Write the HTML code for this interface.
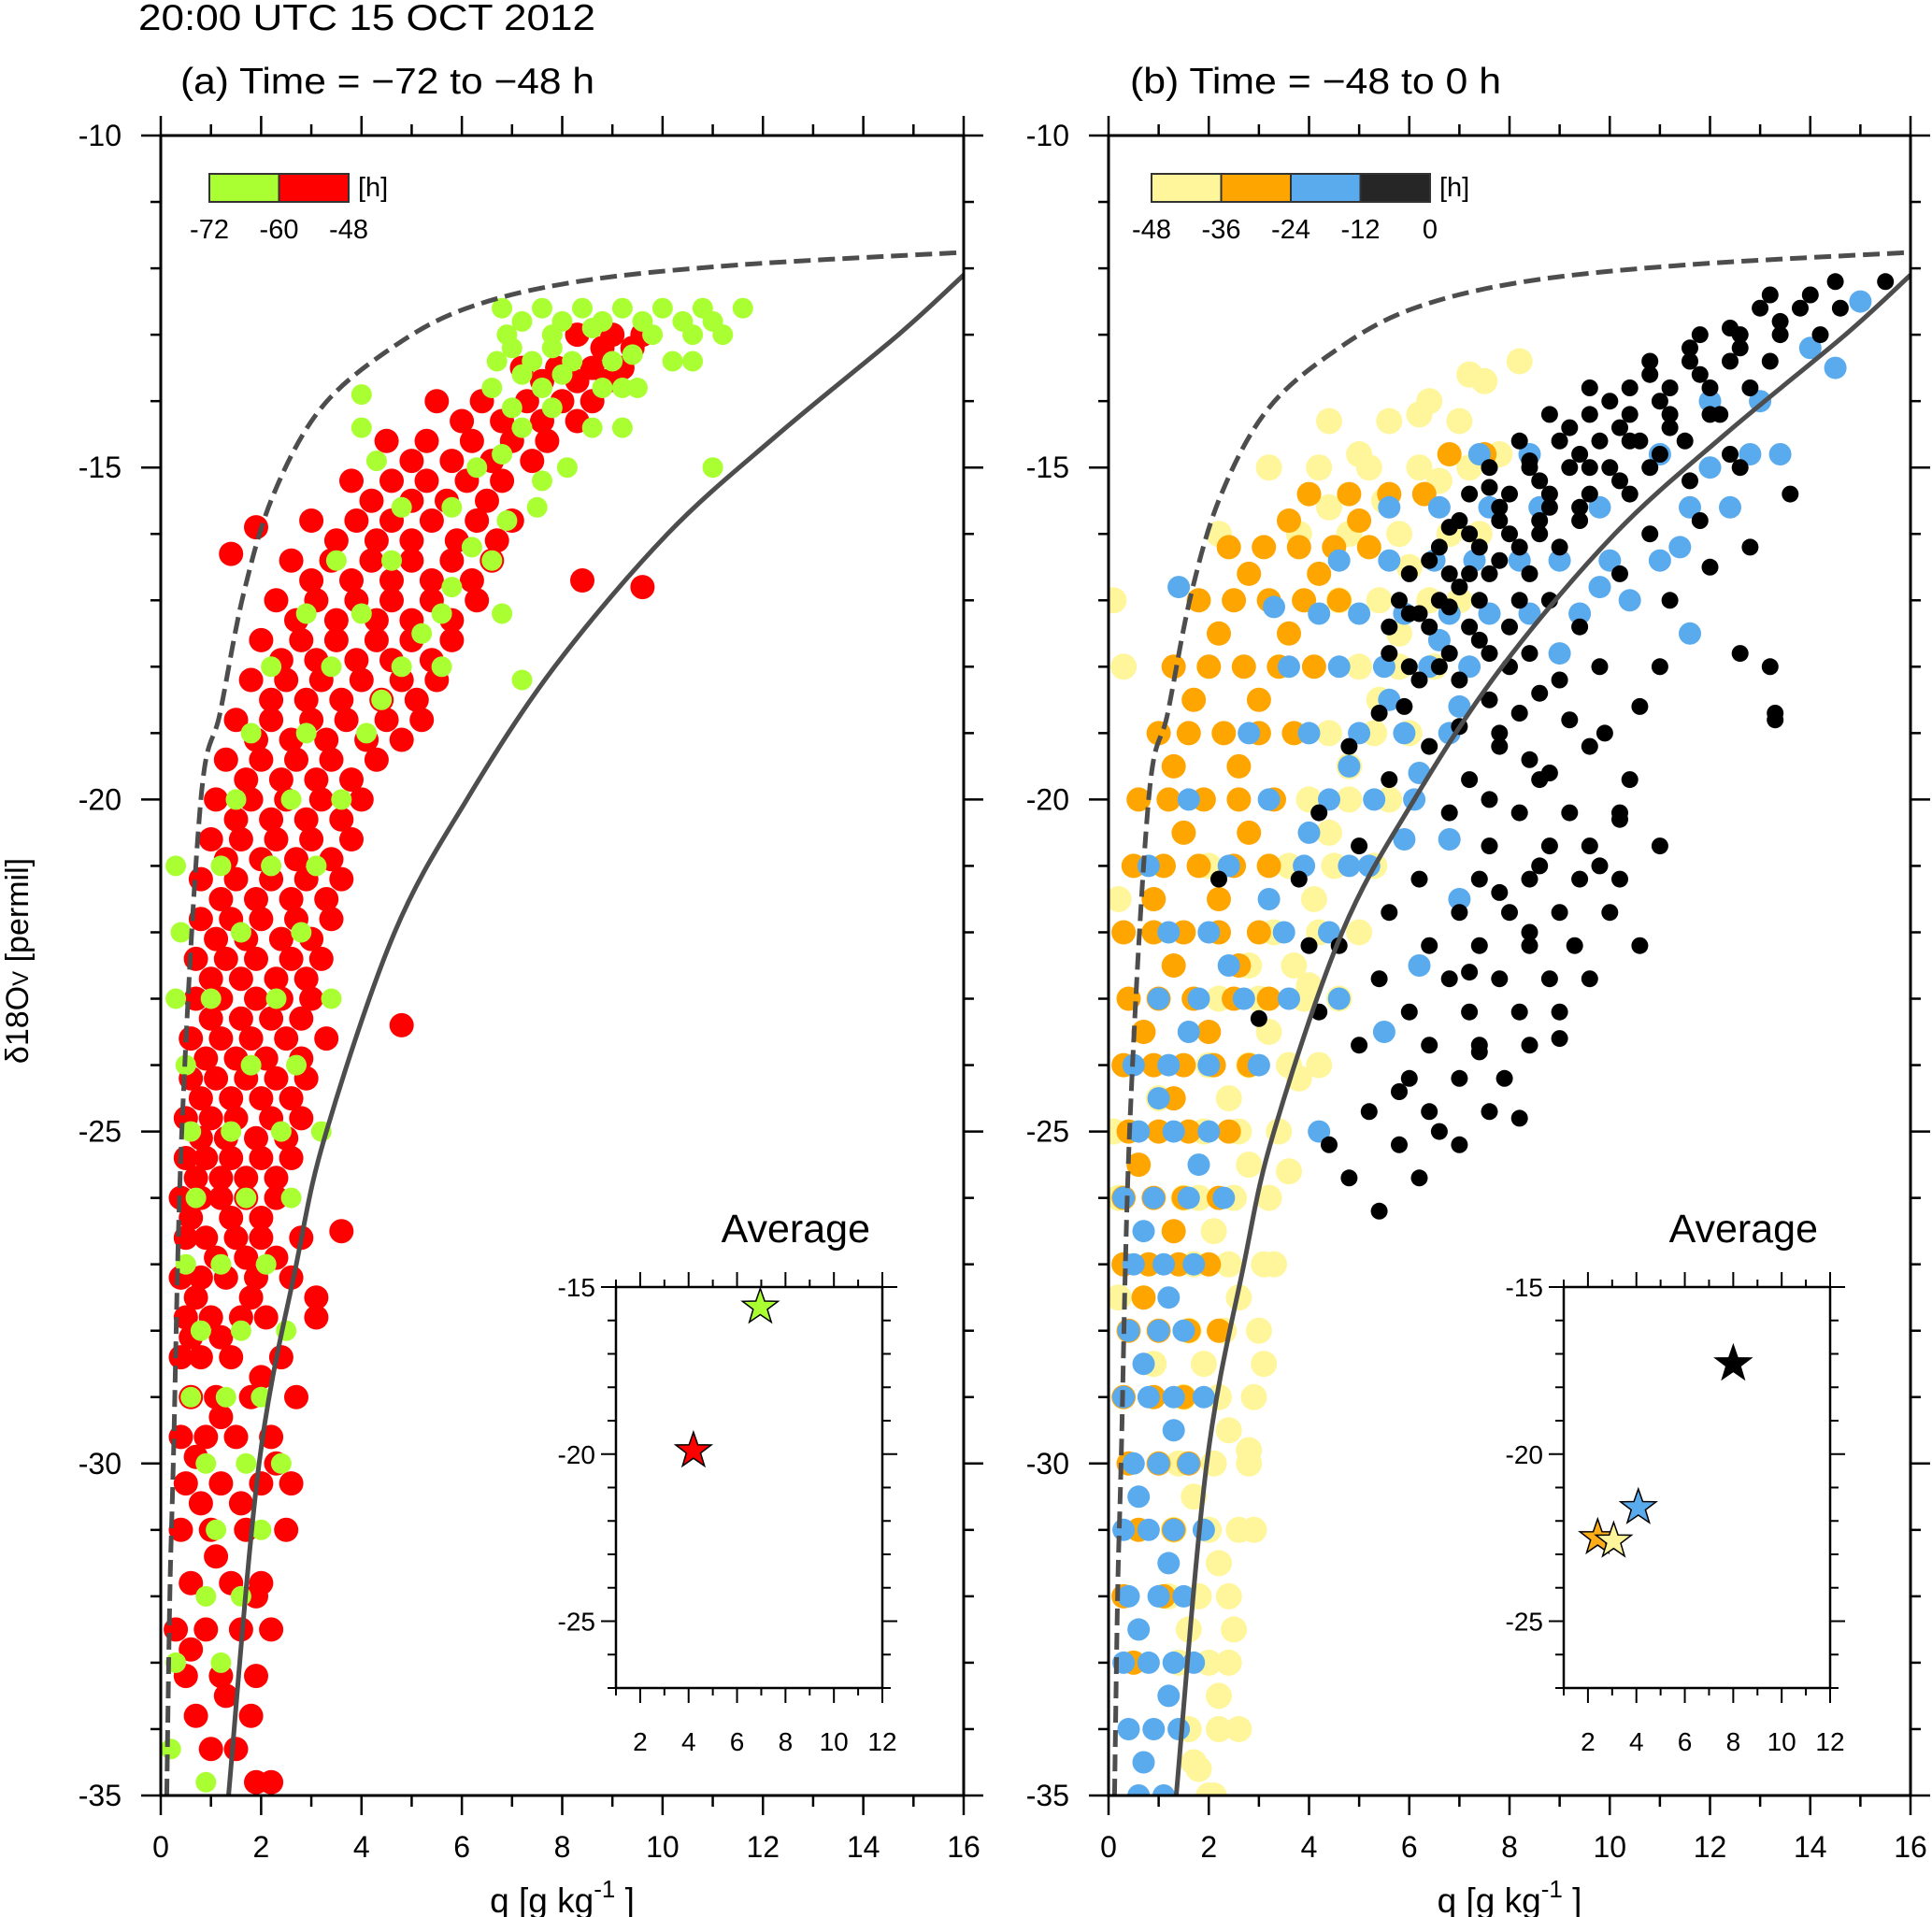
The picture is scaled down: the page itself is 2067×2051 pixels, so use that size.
<!DOCTYPE html>
<html><head><meta charset="utf-8"><title>d18O vs q</title>
<style>html,body{margin:0;padding:0;background:#fff}svg{display:block}
text{font-family:"Liberation Sans Narrow","Liberation Sans",sans-serif;fill:#000}</style></head>
<body>
<svg id="fig" width="2067" height="2051" viewBox="0 0 2067 2051" xmlns="http://www.w3.org/2000/svg">
<text x="148" y="32" font-size="39" textLength="489" lengthAdjust="spacingAndGlyphs">20:00 UTC   15 OCT 2012</text>
<text x="193" y="100" font-size="39" textLength="443" lengthAdjust="spacingAndGlyphs">(a) Time = −72 to −48 h</text>
<text x="1209" y="100" font-size="39" textLength="397" lengthAdjust="spacingAndGlyphs">(b) Time = −48 to 0 h</text>
<text transform="translate(30,1028) rotate(-90)" text-anchor="middle" font-size="34">δ18O<tspan font-size="24">V</tspan> [permil]</text>
<defs id="defs"></defs>
<g id="plots"></g>
</svg>
<script>
// ---- data ----
const xTicks=[0,2,4,6,8,10,12,14,16];
const yTicks=[-10,-15,-20,-25,-30,-35];
const insetXTicks=[2,4,6,8,10,12];
const insetYTicks=[-15,-20,-25];
const dashedCurveQ=[0.12,0.18,0.25,0.42,0.8,1.18,1.65,2.25,3.2,4.6,6.1,8.3,11.5,16];
const dashedCurveD=[-35,-32,-30,-25,-20,-18.7,-16.9,-15.4,-14.1,-13.2,-12.6,-12.2,-11.95,-11.76];
const solidCurveQ=[1.35,1.96,2.7,3.3,4.66,6.1,7.85,10.1,12.3,14.7,16];
const solidCurveD=[-35,-30,-27,-25,-22,-20,-18,-16,-14.5,-13,-12.1];
const redPts=[[1.9,-34.8],[1.5,-34.3],[1.0,-34.3],[0.7,-33.8],[1.8,-33.8],[0.5,-33.2],[1.2,-33.2],[1.9,-33.2],[0.3,-32.5],[0.9,-32.5],[1.6,-32.5],[2.2,-32.5],[0.6,-31.8],[1.4,-31.8],[2.0,-31.8],[0.4,-31],[1.0,-31],[1.7,-31],[2.5,-31],[0.5,-30.3],[1.2,-30.3],[2.0,-30.3],[2.6,-30.3],[0.4,-29.6],[0.9,-29.6],[1.5,-29.6],[2.2,-29.6],[0.6,-29],[1.1,-29],[1.8,-29],[2.7,-29],[0.4,-28.4],[0.8,-28.4],[1.4,-28.4],[2.4,-28.4],[0.5,-27.8],[1.0,-27.8],[1.6,-27.8],[2.1,-27.8],[3.1,-27.8],[0.4,-27.2],[0.8,-27.2],[1.3,-27.2],[1.9,-27.2],[2.6,-27.2],[0.5,-26.6],[0.9,-26.6],[1.5,-26.6],[2.0,-26.6],[2.8,-26.6],[0.4,-26],[0.8,-26],[1.2,-26],[1.7,-26],[2.3,-26],[0.5,-25.4],[0.9,-25.4],[1.4,-25.4],[2.0,-25.4],[2.6,-25.4],[0.5,-24.8],[1.0,-24.8],[1.5,-24.8],[2.2,-24.8],[2.8,-24.8],[0.6,-24.2],[1.1,-24.2],[1.7,-24.2],[2.3,-24.2],[2.9,-24.2],[0.6,-23.6],[1.2,-23.6],[1.8,-23.6],[2.5,-23.6],[3.3,-23.6],[0.7,-23],[1.2,-23],[1.9,-23],[2.4,-23],[3.0,-23],[0.7,-22.4],[1.3,-22.4],[1.9,-22.4],[2.6,-22.4],[3.2,-22.4],[0.8,-21.8],[1.4,-21.8],[2.0,-21.8],[2.7,-21.8],[3.4,-21.8],[0.8,-21.2],[1.5,-21.2],[2.2,-21.2],[2.9,-21.2],[3.6,-21.2],[1.0,-20.6],[1.6,-20.6],[2.3,-20.6],[3.0,-20.6],[3.8,-20.6],[1.1,-20],[1.8,-20],[2.5,-20],[3.2,-20],[4.0,-20],[1.3,-19.4],[2.0,-19.4],[2.7,-19.4],[3.4,-19.4],[4.3,-19.4],[1.5,-18.8],[2.2,-18.8],[3.0,-18.8],[3.7,-18.8],[4.5,-18.8],[5.2,-18.8],[1.8,-18.2],[2.5,-18.2],[3.2,-18.2],[4.0,-18.2],[4.8,-18.2],[5.5,-18.2],[2.0,-17.6],[2.8,-17.6],[3.5,-17.6],[4.3,-17.6],[5.0,-17.6],[5.8,-17.6],[2.3,-17],[3.1,-17],[3.9,-17],[4.6,-17],[5.4,-17],[6.3,-17],[2.6,-16.4],[3.4,-16.4],[4.2,-16.4],[5.0,-16.4],[5.8,-16.4],[6.6,-16.4],[3.0,-15.8],[3.9,-15.8],[4.6,-15.8],[5.4,-15.8],[6.3,-15.8],[7.0,-15.8],[3.8,-15.2],[4.6,-15.2],[5.3,-15.2],[6.1,-15.2],[6.8,-15.2],[4.5,-14.6],[5.3,-14.6],[6.2,-14.6],[7.0,-14.6],[7.7,-14.6],[5.5,-14],[6.4,-14],[7.3,-14],[8.0,-14],[8.6,-14],[7.2,-13.5],[7.9,-13.5],[8.6,-13.5],[9.2,-13.5],[8.3,-13],[9.0,-13],[9.6,-13],[9.6,-16.8],[8.4,-16.7],[3.6,-26.5],[4.8,-23.4],[3.1,-27.5],[2.2,-34.8],[1.9,-15.9],[1.4,-16.3],
[1.3,-33.5],[0.6,-32.8],[1.9,-32.0],[1.1,-31.4],[0.8,-30.6],[1.6,-30.6],[2.3,-30.0],[0.7,-29.9],[1.2,-29.3],[2.0,-28.7],[0.6,-28.1],[1.2,-28.1],[1.8,-27.5],[0.7,-27.5],[1.1,-26.9],[1.7,-26.9],[2.3,-26.9],[0.6,-26.3],[1.4,-26.3],[2.0,-26.3],[0.7,-25.7],[1.2,-25.7],[1.7,-25.7],[2.3,-25.7],[0.8,-25.1],[1.3,-25.1],[1.9,-25.1],[2.5,-25.1],[0.8,-24.5],[1.4,-24.5],[2.0,-24.5],[2.6,-24.5],[0.9,-23.9],[1.5,-23.9],[2.1,-23.9],[2.8,-23.9],[1.0,-23.3],[1.6,-23.3],[2.2,-23.3],[2.8,-23.3],[1.0,-22.7],[1.6,-22.7],[2.3,-22.7],[2.9,-22.7],[1.1,-22.1],[1.7,-22.1],[2.4,-22.1],[3.0,-22.1],[1.2,-21.5],[1.9,-21.5],[2.6,-21.5],[3.3,-21.5],[1.3,-20.9],[2.0,-20.9],[2.7,-20.9],[3.4,-20.9],[1.5,-20.3],[2.2,-20.3],[2.9,-20.3],[3.6,-20.3],[1.7,-19.7],[2.4,-19.7],[3.1,-19.7],[3.8,-19.7],[1.9,-19.1],[2.6,-19.1],[3.3,-19.1],[4.1,-19.1],[4.8,-19.1],[2.2,-18.5],[2.9,-18.5],[3.6,-18.5],[4.4,-18.5],[5.1,-18.5],[2.4,-17.9],[3.1,-17.9],[3.9,-17.9],[4.6,-17.9],[5.4,-17.9],[2.7,-17.3],[3.5,-17.3],[4.3,-17.3],[5.0,-17.3],[5.8,-17.3],[3.0,-16.7],[3.8,-16.7],[4.6,-16.7],[5.4,-16.7],[6.2,-16.7],[3.5,-16.1],[4.3,-16.1],[5.0,-16.1],[5.9,-16.1],[6.7,-16.1],[4.2,-15.5],[5.0,-15.5],[5.7,-15.5],[6.5,-15.5],[5.0,-14.9],[5.8,-14.9],[6.6,-14.9],[7.4,-14.9],[6.0,-14.3],[6.8,-14.3],[7.6,-14.3],[8.3,-14.3],[7.6,-13.7],[8.3,-13.7],[8.9,-13.7],[8.8,-13.2],[9.4,-13.2]];
const greenPts=[[6.8,-12.6],[7.6,-12.6],[8.4,-12.6],[9.2,-12.6],[10.0,-12.6],[10.8,-12.6],[11.6,-12.6],[6.9,-13],[7.8,-13],[8.6,-12.9],[9.8,-13],[10.6,-13],[11.2,-13],[6.7,-13.4],[7.4,-13.4],[10.2,-13.4],[9.4,-13.3],[6.6,-13.8],[7.6,-13.8],[8.8,-13.8],[9.5,-13.8],[4.0,-14.4],[7.2,-14.4],[8.6,-14.4],[9.2,-14.4],[6.3,-15],[8.1,-15],[11.0,-15],[4.8,-15.6],[5.8,-15.6],[7.5,-15.6],[3.5,-16.4],[4.6,-16.4],[6.6,-16.4],[2.9,-17.2],[4.0,-17.2],[5.6,-17.2],[6.8,-17.2],[2.2,-18],[3.4,-18],[4.8,-18],[7.2,-18.2],[1.8,-19],[2.9,-19],[4.1,-19],[1.5,-20],[2.6,-20],[3.6,-20],[0.3,-21],[1.2,-21],[2.2,-21],[3.1,-21],[0.4,-22],[1.6,-22],[2.8,-22],[0.3,-23],[1.0,-23],[2.3,-23],[3.4,-23],[0.5,-24],[1.8,-24],[2.7,-24],[0.6,-25],[1.4,-25],[2.4,-25],[3.2,-25],[0.7,-26],[1.7,-26],[2.6,-26],[0.5,-27],[1.2,-27],[2.1,-27],[0.8,-28],[1.6,-28],[2.5,-28],[0.6,-29],[1.3,-29],[2.0,-29],[0.9,-30],[1.7,-30],[2.4,-30],[1.1,-31],[2.0,-31],[0.9,-32],[1.6,-32],[0.3,-33],[1.2,-33],[0.2,-34.3],[0.9,-34.8],[4.3,-14.9],[4.0,-13.9],
[7.2,-12.8],[8.0,-12.8],[8.8,-12.8],[9.6,-12.8],[10.4,-12.8],[11.0,-12.8],[7.0,-13.2],[7.8,-13.2],[8.2,-13.4],[9.0,-13.4],[10.6,-13.4],[7.2,-13.6],[8.0,-13.6],[9.2,-13.8],[7.0,-14.1],[7.8,-14.1],[6.8,-14.8],[7.6,-15.2],[6.9,-15.8],[6.2,-16.2],[5.8,-16.8],[5.2,-17.5],[4.4,-18.5],[5.6,-18.0]];
const yellowPts=[[2.1,-35],[1.8,-34.6],[1.6,-34],[2.2,-34],[1.4,-33],[2.0,-33],[2.4,-33],[1.2,-32],[1.8,-32],[2.4,-32],[1.3,-31],[2.0,-31],[2.6,-31],[1.4,-30],[2.1,-30],[2.8,-30],[1.5,-29],[2.2,-29],[2.9,-29],[1.6,-28],[2.3,-28],[3.0,-28],[1.7,-27],[2.4,-27],[3.1,-27],[1.8,-26],[2.5,-26],[3.2,-26],[0.2,-26],[1.9,-25],[2.6,-25],[3.4,-25],[0.1,-25],[2.0,-24],[2.8,-24],[3.6,-24],[4.2,-24],[2.2,-23],[3.0,-23],[3.9,-23],[4.6,-23],[3.3,-22],[4.2,-22],[5.0,-22],[3.6,-21],[4.5,-21],[5.3,-21],[4.0,-20],[4.8,-20],[5.6,-20],[4.4,-19],[5.3,-19],[6.0,-19],[0.3,-18],[5.0,-18],[5.8,-18],[6.5,-18],[0.1,-17],[4.6,-17],[5.4,-17],[6.4,-17],[7.0,-17],[2.2,-16],[3.8,-16],[4.8,-16],[5.8,-16],[6.8,-16],[7.4,-16],[3.2,-15],[4.2,-15],[5.2,-15],[6.2,-15],[7.2,-15],[4.4,-14.3],[5.6,-14.3],[7.0,-14.3],[7.5,-13.7],[8.2,-13.4],[0.2,-27.5],[0.2,-21.5],[0.9,-28.5],[1.0,-24.5],
[1.7,-34.5],[2.2,-33.5],[1.6,-32.5],[2.2,-31.5],[1.7,-30.5],[2.4,-29.5],[1.9,-28.5],[2.6,-27.5],[2.1,-26.5],[2.8,-25.5],[2.4,-24.5],[3.2,-23.5],[3.7,-22.5],[4.1,-21.5],[4.4,-20.5],[4.8,-19.5],[5.4,-18.5],[5.8,-17.5],[6.0,-16.5],[5.5,-15.5],[6.6,-15.2],[7.8,-14.8],[6.4,-14.0],
[2.6,-34.0],[2.0,-35.0],[2.5,-32.5],[2.9,-31.0],[2.8,-29.8],[3.1,-28.5],[3.3,-27.0],[3.6,-25.6],[3.8,-24.2],[2.8,-22.5],[4.0,-22.8],[1.5,-26.0],[2.0,-21.0],[6.2,-14.2],[7.2,-13.6],[5.0,-14.8],[4.4,-15.6]];
const orangePts=[[0.5,-33],[0.3,-32],[1.1,-32],[0.6,-31],[1.3,-31],[0.4,-30],[1.0,-30],[1.6,-30],[0.3,-29],[0.9,-29],[1.5,-29],[0.4,-28],[1.0,-28],[1.6,-28],[2.2,-28],[0.3,-27],[0.8,-27],[1.4,-27],[2.0,-27],[0.3,-26],[0.9,-26],[1.5,-26],[2.2,-26],[0.4,-25],[1.0,-25],[1.6,-25],[2.4,-25],[0.3,-24],[0.9,-24],[1.5,-24],[2.1,-24],[2.8,-24],[0.4,-23],[1.0,-23],[1.7,-23],[2.5,-23],[3.2,-23],[0.3,-22],[0.9,-22],[1.5,-22],[2.2,-22],[3.0,-22],[0.5,-21],[1.1,-21],[1.8,-21],[2.5,-21],[3.2,-21],[0.6,-20],[1.2,-20],[1.9,-20],[2.6,-20],[3.3,-20],[1.0,-19],[1.6,-19],[2.3,-19],[3.0,-19],[3.7,-19],[1.3,-18],[2.0,-18],[2.7,-18],[3.4,-18],[4.1,-18],[1.8,-17],[2.5,-17],[3.2,-17],[3.9,-17],[4.6,-17],[2.4,-16.2],[3.1,-16.2],[3.8,-16.2],[4.5,-16.2],[5.2,-16.2],[4.0,-15.4],[4.8,-15.4],[5.6,-15.4],[6.3,-15.4],[6.8,-14.8],[7.5,-14.8],
[0.7,-27.5],[1.3,-26.5],[0.6,-25.5],[1.3,-24.5],[2.0,-23.5],[0.7,-23.5],[1.3,-22.5],[2.6,-22.5],[0.9,-21.5],[2.2,-21.5],[1.5,-20.5],[2.8,-20.5],[1.3,-19.5],[2.6,-19.5],[1.7,-18.5],[3.0,-18.5],[2.2,-17.5],[3.6,-17.5],[2.8,-16.6],[4.2,-16.6],[3.6,-15.8],[5.0,-15.8]];
const bluePts=[[0.6,-35],[1.1,-35],[0.4,-34],[0.9,-34],[1.4,-34],[0.3,-33],[0.8,-33],[1.3,-33],[1.7,-33],[0.4,-32],[1.0,-32],[1.5,-32],[0.3,-31],[0.8,-31],[1.3,-31],[1.9,-31],[0.5,-30],[1.0,-30],[1.6,-30],[0.3,-29],[0.8,-29],[1.3,-29],[1.9,-29],[0.4,-28],[1.0,-28],[1.5,-28],[0.5,-27],[1.1,-27],[1.7,-27],[0.3,-26],[0.9,-26],[1.6,-26],[2.3,-26],[0.6,-25],[1.3,-25],[2.0,-25],[4.2,-25],[0.5,-24],[1.2,-24],[2.0,-24],[3.0,-24],[1.0,-23],[1.8,-23],[2.7,-23],[3.6,-23],[1.2,-22],[2.0,-22],[3.5,-22],[4.4,-22],[0.8,-21],[2.4,-21],[3.9,-21],[4.8,-21],[1.6,-20],[3.2,-20],[4.4,-20],[5.3,-20],[6.1,-20],[2.8,-19],[4.0,-19],[5.0,-19],[5.9,-19],[6.8,-19],[3.6,-18],[4.6,-18],[5.5,-18],[6.4,-18],[7.2,-18],[4.2,-17.2],[5.0,-17.2],[5.9,-17.2],[6.8,-17.2],[7.6,-17.2],[8.4,-17.2],[9.4,-17.2],[4.6,-16.4],[5.6,-16.4],[6.5,-16.4],[7.3,-16.4],[8.2,-16.4],[9.0,-16.4],[10.0,-16.4],[11.0,-16.4],[5.6,-15.6],[6.6,-15.6],[7.6,-15.6],[8.6,-15.6],[9.8,-15.6],[11.6,-15.6],[12.4,-15.6],[7.4,-14.8],[8.4,-14.8],[11.0,-14.8],[12.8,-14.8],[13.4,-14.8],[12.0,-14],[13.0,-14],[14.0,-13.2],[15.0,-12.5],[9.8,-16.8],[11.6,-17.5],[9.0,-17.8],[5.9,-20.6],[3.3,-17.1],[1.4,-16.8],[14.5,-13.5],[7.0,-21.5],[6.2,-22.5],[5.5,-23.5],
[0.7,-34.5],[1.2,-33.5],[0.6,-32.5],[1.2,-31.5],[0.6,-30.5],[1.3,-29.5],[0.7,-28.5],[1.2,-27.5],[0.7,-26.5],[1.8,-25.5],[1.0,-24.5],[1.6,-23.5],[2.4,-22.5],[3.2,-21.5],[4.0,-20.5],[4.8,-19.5],[5.6,-18.5],[6.6,-17.6],[7.0,-18.6],[6.2,-19.6],[5.2,-21.0],[6.8,-20.6],[4.6,-23.0],[10.4,-17.0],[11.4,-16.2],[12.0,-15.0]];
const blackPts=[[14.5,-12.2],[15.5,-12.2],[13.0,-12.6],[13.8,-12.6],[14.6,-12.6],[11.8,-13],[12.6,-13],[13.4,-13],[14.2,-13],[10.8,-13.4],[11.6,-13.4],[12.4,-13.4],[13.2,-13.4],[9.6,-13.8],[10.4,-13.8],[11.2,-13.8],[12.0,-13.8],[12.8,-13.8],[8.8,-14.2],[9.6,-14.2],[10.4,-14.2],[11.2,-14.2],[12.2,-14.2],[8.2,-14.6],[9.0,-14.6],[9.8,-14.6],[10.6,-14.6],[11.5,-14.6],[7.6,-15],[8.4,-15],[9.2,-15],[10.0,-15],[10.8,-15],[12.6,-15],[7.2,-15.4],[8.0,-15.4],[8.8,-15.4],[9.6,-15.4],[10.4,-15.4],[13.6,-15.4],[7.0,-15.8],[7.8,-15.8],[8.6,-15.8],[9.4,-15.8],[11.8,-15.8],[6.6,-16.2],[7.4,-16.2],[8.2,-16.2],[9.0,-16.2],[12.8,-16.2],[6.0,-16.6],[6.8,-16.6],[7.6,-16.6],[8.4,-16.6],[10.2,-16.6],[5.8,-17],[6.6,-17],[7.4,-17],[8.2,-17],[11.2,-17],[5.6,-17.4],[6.4,-17.4],[7.2,-17.4],[8.0,-17.4],[9.4,-17.4],[5.6,-17.8],[6.8,-17.8],[7.6,-17.8],[8.4,-17.8],[12.6,-17.8],[6.2,-18.2],[7.0,-18.2],[7.6,-18.5],[9.0,-18.2],[5.4,-18.7],[7.0,-18.9],[8.2,-18.7],[13.3,-18.7],[4.8,-19.2],[6.4,-19.2],[7.8,-19.2],[9.6,-19.2],[5.6,-19.7],[7.2,-19.7],[8.6,-19.7],[10.4,-19.7],[4.2,-20.2],[6.8,-20.2],[8.2,-20.2],[9.2,-20.2],[10.2,-20.2],[5.0,-20.7],[7.6,-20.7],[8.8,-20.7],[9.6,-20.7],[11.0,-20.7],[3.8,-21.2],[6.2,-21.2],[7.4,-21.2],[8.4,-21.2],[9.4,-21.2],[10.2,-21.2],[5.6,-21.7],[7.0,-21.7],[8.0,-21.7],[9.0,-21.7],[10.0,-21.7],[4.6,-22.2],[6.4,-22.2],[7.4,-22.2],[8.4,-22.2],[9.3,-22.2],[5.4,-22.7],[6.8,-22.7],[7.8,-22.7],[8.8,-22.7],[9.6,-22.7],[4.2,-23.2],[6.0,-23.2],[7.2,-23.2],[8.2,-23.2],[9.0,-23.2],[5.0,-23.7],[6.4,-23.7],[7.4,-23.7],[8.4,-23.7],[6.0,-24.2],[7.0,-24.2],[7.9,-24.2],[5.2,-24.7],[6.4,-24.7],[7.6,-24.7],[4.4,-25.2],[5.8,-25.2],[7.0,-25.2],[4.8,-25.7],[6.2,-25.7],[5.4,-26.2],[13.2,-18.0],[13.3,-18.8],[10.2,-20.3],[3.0,-23.3],[2.2,-21.2],[12.0,-16.5],[11.0,-18.0],
[6.4,-16.4],[7.2,-16.0],[7.8,-15.6],[8.6,-15.2],[9.4,-14.8],[10.2,-14.4],[11.0,-14.0],[11.8,-13.6],[12.6,-13.2],[13.4,-12.8],[14.0,-12.4],[6.2,-17.2],[7.0,-16.8],[7.8,-16.4],[8.6,-16.0],[9.4,-15.6],[10.2,-15.2],[11.0,-14.8],[6.6,-18.0],[7.4,-17.6],[8.0,-18.0],[8.8,-17.0],[7.8,-19.0],[8.4,-19.4],[7.6,-20.0],[8.6,-21.0],[7.8,-21.4],[8.4,-22.0],[7.2,-22.6],
[6.8,-15.9],[7.6,-15.3],[8.4,-14.9],[9.2,-14.4],[10.0,-14.0],[10.8,-13.6],[11.6,-13.2],[12.4,-12.9],[13.2,-12.4],[6.0,-17.2],[6.8,-17.1],[7.2,-16.6],[8.0,-16.0],[8.8,-15.6],[9.6,-15.0],[10.4,-14.6],[11.2,-14.4],[12.0,-14.2],[8.6,-18.4],[9.2,-18.8],[6.0,-18.0],[5.9,-18.6],[9.8,-18.0],[10.6,-18.6],[9.8,-21.0],[8.2,-24.8],[6.6,-25.0],[7.4,-23.8],[5.8,-24.4],[9.0,-23.6],[10.6,-22.2],[4.0,-22.2],[8.8,-19.6],[9.9,-19.0],[10.8,-16.0],[11.6,-15.2],[12.4,-14.8]];
const avgA_Q=[6.96,4.2];
const avgA_D=[-15.6,-19.9];
const avgA_Col=["#aaff33","#ff0000"];
const avgB_Q=[2.4,3.06,4.08,8.0];
const avgB_D=[-22.5,-22.6,-21.6,-17.3];
const avgB_Col=["#ffae1a","#fff59a","#5aaaee","#000000"];
const cbA_Labels=["-72","-60","-48"];
const cbA_Col=["#aaff33","#ff0000"];
const cbB_Labels=["-48","-36","-24","-12","0"];
const cbB_Col=["#fff59a","#ffa500","#5aaaee","#262626"];

const NS="http://www.w3.org/2000/svg";
const root=document.getElementById('plots');
const defs=document.getElementById('defs');
function mk(tag,attrs,parent){const e=document.createElementNS(NS,tag);for(const k in attrs)e.setAttribute(k,attrs[k]);(parent||root).appendChild(e);return e;}
const PY0=145,PY1=1921;
function yS(d){return PY0+(-10-d)/25*(PY1-PY0);}
function xS(L,W){return q=>L+q/16*W;}
function smooth(P){let s='M'+P[0][0].toFixed(1)+','+P[0][1].toFixed(1);
  for(let i=0;i<P.length-1;i++){const p0=P[Math.max(i-1,0)],p1=P[i],p2=P[i+1],p3=P[Math.min(i+2,P.length-1)];
    const c1=[p1[0]+(p2[0]-p0[0])/6,p1[1]+(p2[1]-p0[1])/6],c2=[p2[0]-(p3[0]-p1[0])/6,p2[1]-(p3[1]-p1[1])/6];
    s+='C'+c1[0].toFixed(1)+','+c1[1].toFixed(1)+' '+c2[0].toFixed(1)+','+c2[1].toFixed(1)+' '+p2[0].toFixed(1)+','+p2[1].toFixed(1);}
  return s;}

function panel(L,W,id,series,cb,avg){
  const g=mk('g',{});
  
  
  const X=xS(L,W);
  const cp=mk('clipPath',{id:'clip-'+id},defs);
  mk('rect',{x:L,y:PY0,width:W,height:PY1-PY0},cp);
  const dg=mk('g',{'clip-path':'url(#clip-'+id+')'},g);
  series.forEach(s=>{
    const sg=mk('g',{fill:s.col},dg);
    
    
    s.pts.forEach(p=>{
      const c=mk('circle',{cx:X(p[0]).toFixed(1),cy:yS(p[1]).toFixed(1),r:s.r},sg);
      
      
    });
  });
  const dc=mk('path',{d:smooth(dashedCurveQ.map((q,i)=>[X(q),yS(dashedCurveD[i])])),fill:'none',stroke:'#4d4d4d','stroke-width':5,'stroke-dasharray':'18,8'},dg);
  
  
  const sc=mk('path',{d:smooth(solidCurveQ.map((q,i)=>[X(q),yS(solidCurveD[i])])),fill:'none',stroke:'#4d4d4d','stroke-width':5},dg);
  
  
  const fr=mk('rect',{x:L,y:PY0,width:W,height:PY1-PY0,fill:'none',stroke:'#000','stroke-width':3},g);
  
  
  for(let q=0;q<=16;q++){const x=X(q),len=q%2?12:21;
    mk('line',{x1:x,y1:PY0,x2:x,y2:PY0-len,stroke:'#000','stroke-width':2.5},g);
    mk('line',{x1:x,y1:PY1,x2:x,y2:PY1+len,stroke:'#000','stroke-width':2.5},g);}
  xTicks.forEach(q=>{const t=mk('text',{x:X(q),y:1987,'font-size':32,'text-anchor':'middle'},g);t.textContent=q;
    });
  for(let d=-10;d>=-35;d--){const y=yS(d),len=d%5?11:21;
    mk('line',{x1:L,y1:y,x2:L-len,y2:y,stroke:'#000','stroke-width':2.5},g);
    mk('line',{x1:L+W,y1:y,x2:L+W+len,y2:y,stroke:'#000','stroke-width':2.5},g);}
  yTicks.forEach(d=>{const t=mk('text',{x:L-42,y:yS(d)+11,'font-size':32,'text-anchor':'end'},g);t.textContent=d;
    });
  const xt=mk('text',{x:L+W/2,y:2046,'font-size':37,'text-anchor':'middle'},g);
  xt.innerHTML='q [g kg<tspan font-size="26" dy="-16">-1</tspan><tspan dy="16"> ]</tspan>';
  
  const cg=mk('g',{},g);
  
  
  const segW=74.5;
  cb.cols.forEach((c,i)=>{mk('rect',{x:cb.x+i*segW,y:186,width:segW,height:30,fill:c,stroke:'#333','stroke-width':2},cg);});
  cb.labels.forEach((l,i)=>{const t=mk('text',{x:cb.x+i*segW,y:255,'font-size':29,'text-anchor':'middle'},cg);t.textContent=l;});
  const ht=mk('text',{x:cb.x+cb.cols.length*segW+10,y:210,'font-size':29},cg);ht.textContent='[h]';
  const IL=L+487,IW=285,IT=1377,IB=1806;
  const ix=q=>IL+(q-1)/11*IW, iy=d=>IT+(-15-d)/12*(IB-IT);
  const ig=mk('g',{},g);
  
  
  const at=mk('text',{x:IL+272,y:1329,'font-size':43,'text-anchor':'end'},ig);at.textContent='Average';
  mk('rect',{x:IL,y:IT,width:IW,height:IB-IT,fill:'none',stroke:'#000','stroke-width':2.5},ig);
  for(let q=1;q<=12;q++){const x=ix(q),len=q%2?8:16;
    mk('line',{x1:x,y1:IT,x2:x,y2:IT-len,stroke:'#000','stroke-width':2},ig);
    mk('line',{x1:x,y1:IB,x2:x,y2:IB+len,stroke:'#000','stroke-width':2},ig);}
  insetXTicks.forEach(q=>{const t=mk('text',{x:ix(q),y:1873,'font-size':28,'text-anchor':'middle'},ig);t.textContent=q;});
  for(let d=-15;d>=-27;d--){const y=iy(d),len=d%5?9:16;
    mk('line',{x1:IL,y1:y,x2:IL-len,y2:y,stroke:'#000','stroke-width':2},ig);
    mk('line',{x1:IL+IW,y1:y,x2:IL+IW+len,y2:y,stroke:'#000','stroke-width':2},ig);}
  insetYTicks.forEach(d=>{const t=mk('text',{x:IL-22,y:iy(d)+10,'font-size':28,'text-anchor':'end'},ig);t.textContent=d;});
  avg.q.forEach((q,i)=>{
    const cx=ix(q),cy=iy(avg.d[i]);let pts=[];
    for(let k=0;k<10;k++){const r=k%2?8:20,a=-Math.PI/2+k*Math.PI/5;pts.push((cx+r*Math.cos(a)).toFixed(1)+','+(cy+r*Math.sin(a)).toFixed(1));}
    const s=mk('polygon',{points:pts.join(' '),fill:avg.col[i],stroke:'#000','stroke-width':1.5},ig);
    
    
  });
}
panel(172,859,'a',[
  {name:'red',pts:redPts,col:'#ff0000',r:13},
  {name:'green',pts:greenPts,col:'#aaff33',r:11}
],{x:224,cols:cbA_Col,labels:cbA_Labels},{q:avgA_Q,d:avgA_D,col:avgA_Col});
panel(1186,858,'b',[
  {name:'yellow',pts:yellowPts,col:'#fff59a',r:14},
  {name:'orange',pts:orangePts,col:'#ffa500',r:13},
  {name:'blue',pts:bluePts,col:'#5aaaee',r:12},
  {name:'black',pts:blackPts,col:'#000000',r:9}
],{x:1232,cols:cbB_Col,labels:cbB_Labels},{q:avgB_Q,d:avgB_D,col:avgB_Col});
</script>
</body></html>
